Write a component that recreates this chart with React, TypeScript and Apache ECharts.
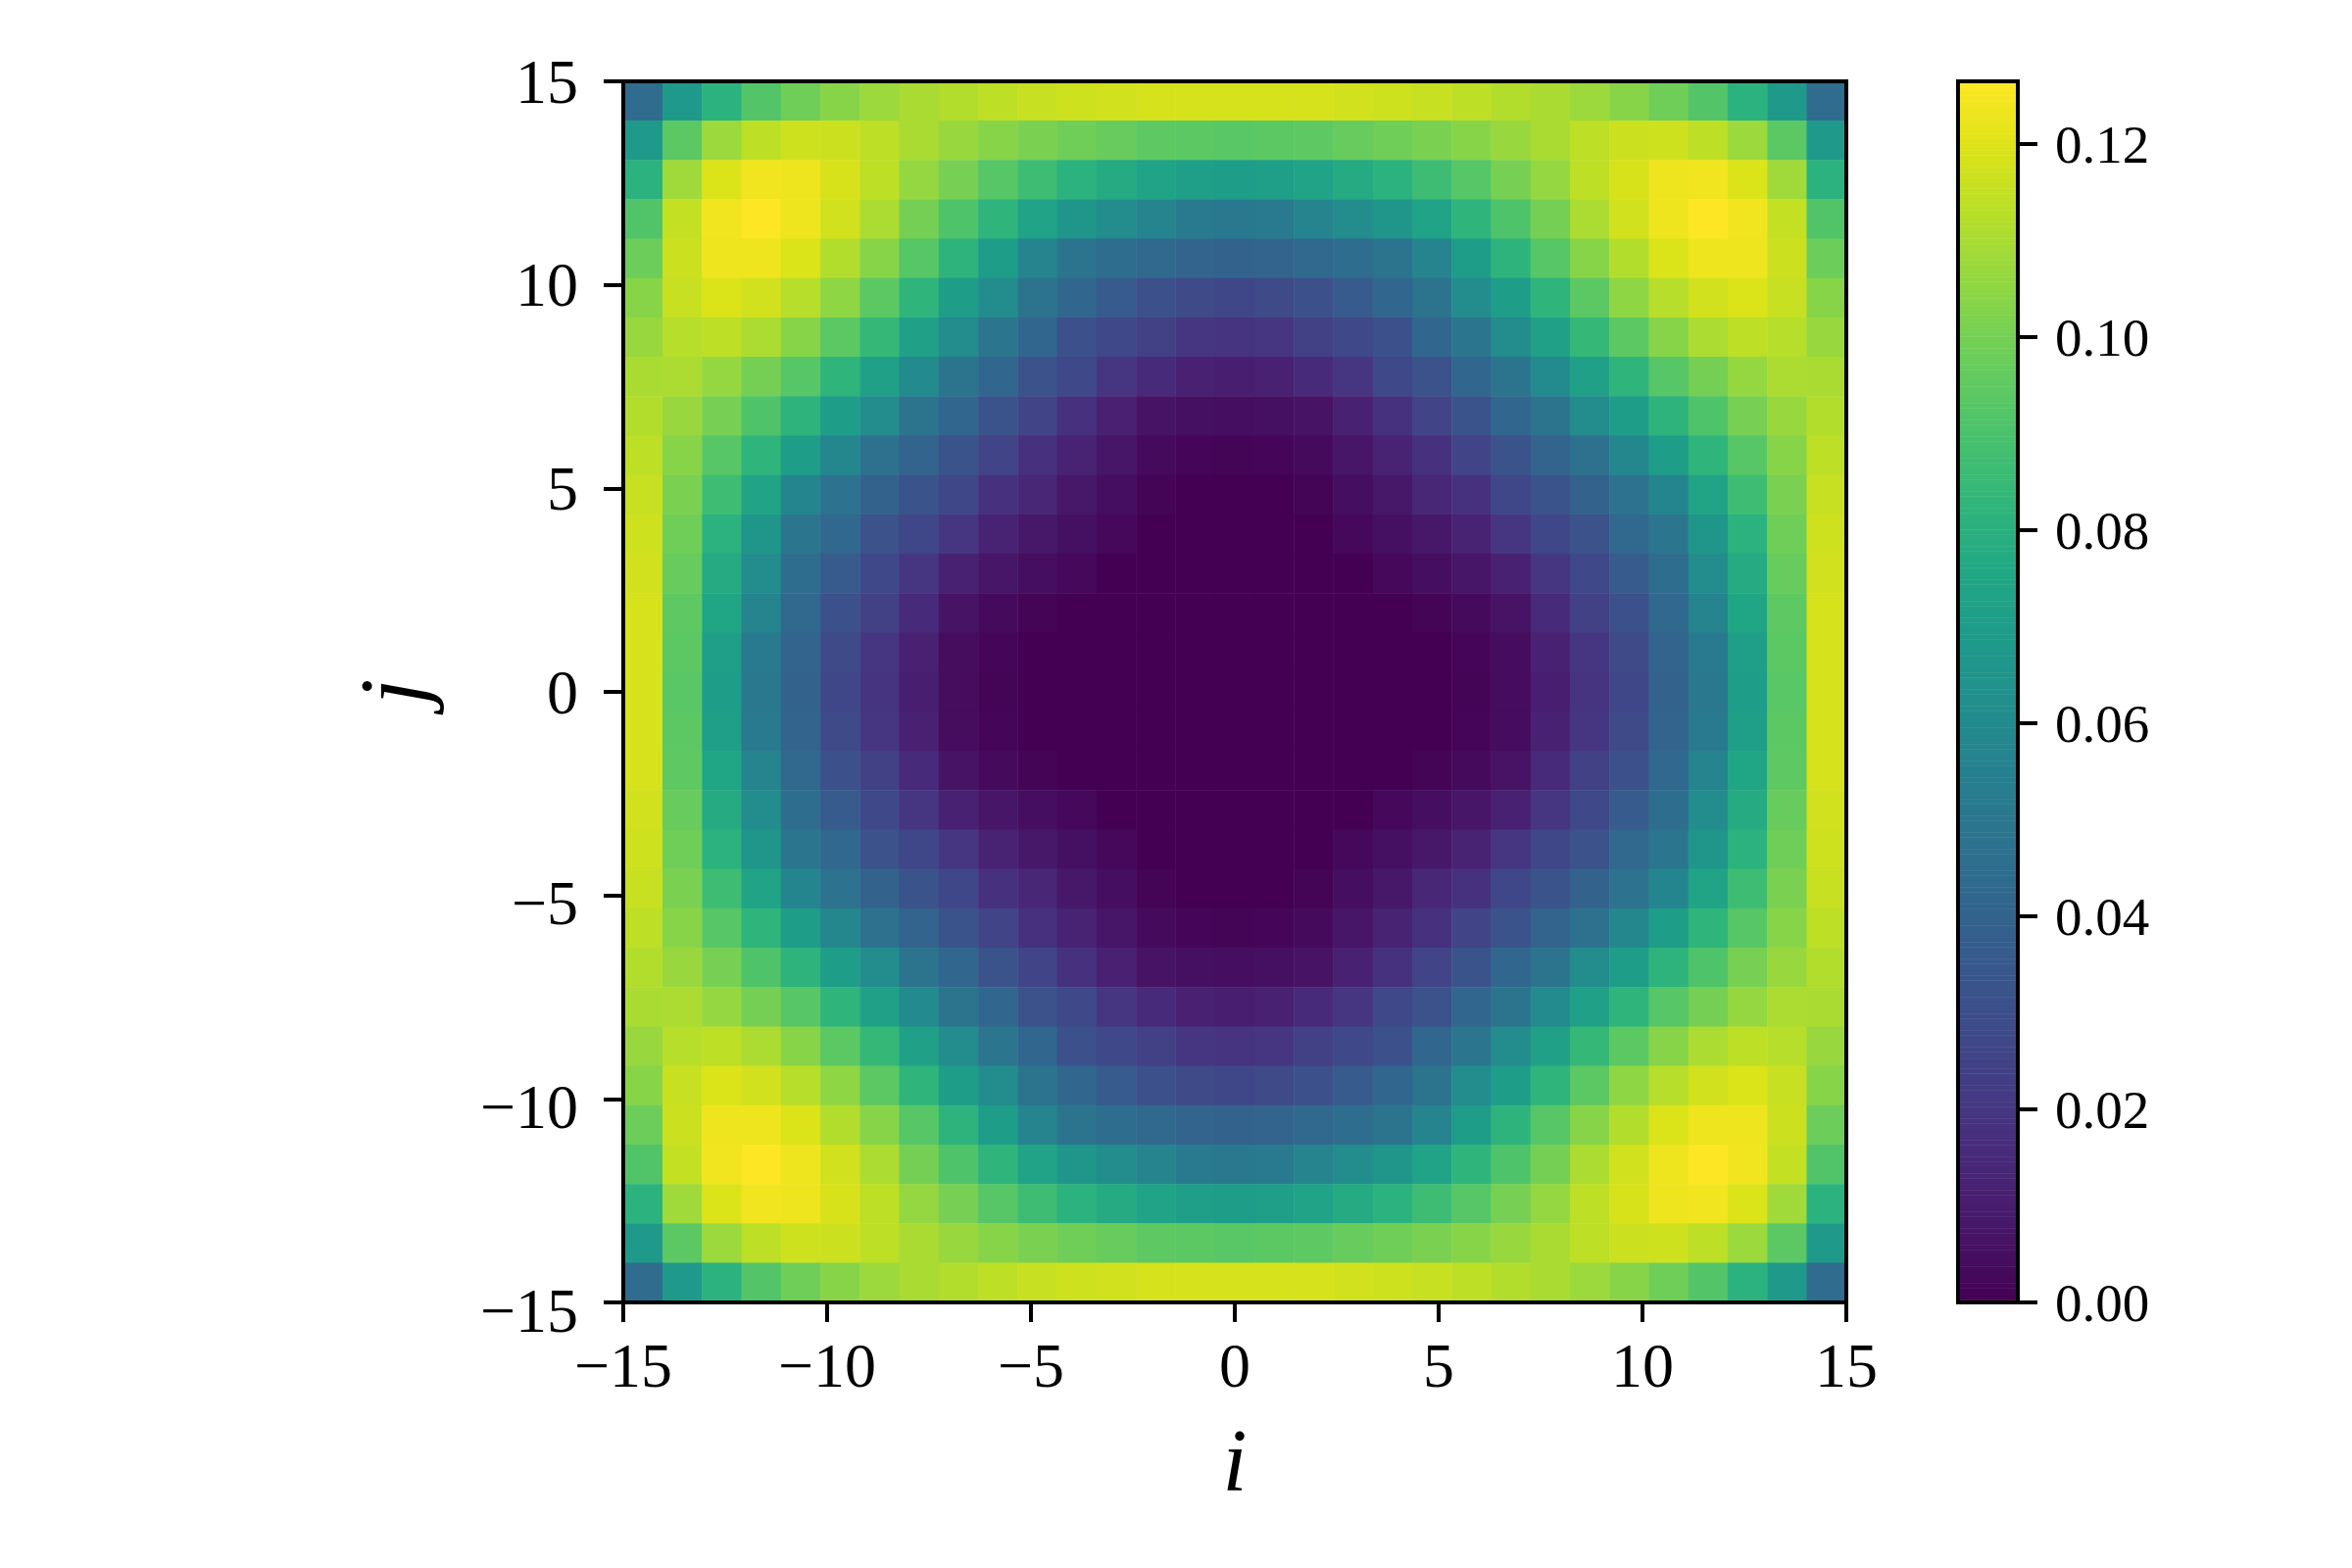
import React, { useEffect, useRef } from "react";
import * as echarts from "echarts";

const FONT = "Liberation Serif";

const cellValues: number[][] = [
[.0443,.0683,.0810,.0923,.0987,.1037,.1075,.1101,.1120,.1139,.1157,.1170,.1176,.1183,.1183,.1183,.1183,.1183,.1176,.1170,.1157,.1139,.1120,.1101,.1075,.1037,.0987,.0923,.0810,.0683,.0443],
[.0683,.0942,.1075,.1139,.1170,.1164,.1139,.1101,.1069,.1037,.1012,.0987,.0968,.0949,.0942,.0936,.0942,.0949,.0968,.0987,.1012,.1037,.1069,.1101,.1139,.1164,.1170,.1139,.1075,.0942,.0683],
[.0810,.1082,.1195,.1240,.1233,.1189,.1139,.1063,.1006,.0930,.0867,.0810,.0772,.0734,.0708,.0702,.0708,.0734,.0772,.0810,.0867,.0930,.1006,.1063,.1139,.1189,.1233,.1240,.1195,.1082,.0810],
[.0917,.1151,.1240,.1265,.1233,.1176,.1107,.0999,.0911,.0822,.0734,.0664,.0607,.0569,.0519,.0506,.0519,.0569,.0607,.0664,.0734,.0822,.0911,.0999,.1107,.1176,.1233,.1265,.1240,.1151,.0917],
[.0980,.1164,.1233,.1233,.1195,.1120,.1037,.0930,.0816,.0702,.0569,.0487,.0449,.0424,.0405,.0398,.0405,.0424,.0449,.0487,.0569,.0702,.0816,.0930,.1037,.1120,.1195,.1233,.1233,.1164,.0980],
[.1037,.1157,.1195,.1176,.1126,.1050,.0942,.0822,.0702,.0607,.0481,.0417,.0361,.0310,.0278,.0266,.0278,.0310,.0361,.0417,.0481,.0607,.0702,.0822,.0942,.1050,.1126,.1176,.1195,.1157,.1037],
[.1069,.1126,.1139,.1107,.1037,.0942,.0841,.0721,.0607,.0493,.0417,.0310,.0272,.0240,.0196,.0190,.0196,.0240,.0272,.0310,.0417,.0493,.0607,.0721,.0841,.0942,.1037,.1107,.1139,.1126,.1069],
[.1101,.1107,.1063,.0999,.0930,.0822,.0721,.0601,.0487,.0417,.0316,.0272,.0196,.0152,.0114,.0108,.0114,.0152,.0196,.0272,.0316,.0417,.0487,.0601,.0721,.0822,.0930,.0999,.1063,.1107,.1101],
[.1120,.1069,.1006,.0911,.0816,.0702,.0607,.0487,.0417,.0323,.0253,.0177,.0114,.0063,.0051,.0044,.0051,.0063,.0114,.0177,.0253,.0323,.0417,.0487,.0607,.0702,.0816,.0911,.1006,.1069,.1120],
[.1139,.1037,.0930,.0822,.0702,.0582,.0468,.0405,.0323,.0253,.0177,.0120,.0076,.0032,.0019,.0013,.0019,.0032,.0076,.0120,.0177,.0253,.0323,.0405,.0468,.0582,.0702,.0822,.0930,.1037,.1139],
[.1157,.1012,.0867,.0740,.0576,.0474,.0398,.0323,.0266,.0177,.0139,.0082,.0044,.0013,0,0,0,.0013,.0044,.0082,.0139,.0177,.0266,.0323,.0398,.0474,.0576,.0740,.0867,.1012,.1157],
[.1170,.0987,.0810,.0664,.0493,.0424,.0316,.0266,.0196,.0120,.0082,.0051,.0025,0,0,0,0,0,.0025,.0051,.0082,.0120,.0196,.0266,.0316,.0424,.0493,.0664,.0810,.0987,.1170],
[.1176,.0968,.0772,.0607,.0449,.0361,.0272,.0196,.0114,.0076,.0044,.0025,0,0,0,0,0,0,0,.0025,.0044,.0076,.0114,.0196,.0272,.0361,.0449,.0607,.0772,.0968,.1176],
[.1183,.0949,.0746,.0569,.0424,.0310,.0240,.0152,.0063,.0032,.0013,0,0,0,0,0,0,0,0,0,.0013,.0032,.0063,.0152,.0240,.0310,.0424,.0569,.0746,.0949,.1183],
[.1183,.0942,.0708,.0519,.0405,.0278,.0196,.0114,.0038,.0019,0,0,0,0,0,0,0,0,0,0,0,.0019,.0038,.0114,.0196,.0278,.0405,.0519,.0708,.0942,.1183],
[.1183,.0936,.0702,.0506,.0398,.0266,.0190,.0108,.0038,.0013,0,0,0,0,0,0,0,0,0,0,0,.0013,.0038,.0108,.0190,.0266,.0398,.0506,.0702,.0936,.1183],
[.1183,.0942,.0708,.0519,.0405,.0278,.0196,.0114,.0038,.0019,0,0,0,0,0,0,0,0,0,0,0,.0019,.0038,.0114,.0196,.0278,.0405,.0519,.0708,.0942,.1183],
[.1183,.0949,.0746,.0569,.0424,.0310,.0240,.0152,.0063,.0032,.0013,0,0,0,0,0,0,0,0,0,.0013,.0032,.0063,.0152,.0240,.0310,.0424,.0569,.0746,.0949,.1183],
[.1176,.0968,.0772,.0607,.0449,.0361,.0272,.0196,.0114,.0076,.0044,.0025,0,0,0,0,0,0,0,.0025,.0044,.0076,.0114,.0196,.0272,.0361,.0449,.0607,.0772,.0968,.1176],
[.1170,.0987,.0810,.0664,.0493,.0424,.0316,.0266,.0196,.0120,.0082,.0051,.0025,0,0,0,0,0,.0025,.0051,.0082,.0120,.0196,.0266,.0316,.0424,.0493,.0664,.0810,.0987,.1170],
[.1157,.1012,.0867,.0740,.0576,.0474,.0398,.0323,.0266,.0177,.0139,.0082,.0044,.0013,0,0,0,.0013,.0044,.0082,.0139,.0177,.0266,.0323,.0398,.0474,.0576,.0740,.0867,.1012,.1157],
[.1139,.1037,.0930,.0822,.0702,.0582,.0468,.0405,.0323,.0253,.0177,.0120,.0076,.0032,.0019,.0013,.0019,.0032,.0076,.0120,.0177,.0253,.0323,.0405,.0468,.0582,.0702,.0822,.0930,.1037,.1139],
[.1120,.1069,.1006,.0911,.0816,.0702,.0607,.0487,.0417,.0323,.0253,.0177,.0114,.0063,.0051,.0044,.0051,.0063,.0114,.0177,.0253,.0323,.0417,.0487,.0607,.0702,.0816,.0911,.1006,.1069,.1120],
[.1101,.1107,.1063,.0999,.0930,.0822,.0721,.0601,.0487,.0417,.0316,.0272,.0196,.0152,.0114,.0108,.0114,.0152,.0196,.0272,.0316,.0417,.0487,.0601,.0721,.0822,.0930,.0999,.1063,.1107,.1101],
[.1069,.1126,.1139,.1107,.1037,.0942,.0841,.0721,.0607,.0493,.0417,.0310,.0272,.0240,.0196,.0190,.0196,.0240,.0272,.0310,.0417,.0493,.0607,.0721,.0841,.0942,.1037,.1107,.1139,.1126,.1069],
[.1037,.1157,.1195,.1176,.1126,.1050,.0942,.0822,.0702,.0607,.0481,.0417,.0361,.0310,.0278,.0266,.0278,.0310,.0361,.0417,.0481,.0607,.0702,.0822,.0942,.1050,.1126,.1176,.1195,.1157,.1037],
[.0980,.1164,.1233,.1233,.1195,.1120,.1037,.0930,.0816,.0702,.0569,.0487,.0449,.0424,.0405,.0398,.0405,.0424,.0449,.0487,.0569,.0702,.0816,.0930,.1037,.1120,.1195,.1233,.1233,.1164,.0980],
[.0917,.1151,.1240,.1265,.1233,.1176,.1107,.0999,.0911,.0822,.0734,.0664,.0607,.0569,.0519,.0506,.0519,.0569,.0607,.0664,.0734,.0822,.0911,.0999,.1107,.1176,.1233,.1265,.1240,.1151,.0917],
[.0810,.1082,.1195,.1240,.1233,.1189,.1139,.1063,.1006,.0930,.0867,.0810,.0772,.0734,.0708,.0702,.0708,.0734,.0772,.0810,.0867,.0930,.1006,.1063,.1139,.1189,.1233,.1240,.1195,.1082,.0810],
[.0683,.0942,.1075,.1139,.1170,.1164,.1139,.1101,.1069,.1037,.1012,.0987,.0968,.0949,.0942,.0936,.0942,.0949,.0968,.0987,.1012,.1037,.1069,.1101,.1139,.1164,.1170,.1139,.1075,.0942,.0683],
[.0443,.0683,.0810,.0923,.0987,.1037,.1075,.1101,.1120,.1139,.1157,.1170,.1176,.1183,.1183,.1183,.1183,.1183,.1176,.1170,.1157,.1139,.1120,.1101,.1075,.1037,.0987,.0923,.0810,.0683,.0443],
];

const axisTicks = [-15, -10, -5, 0, 5, 10, 15];
const colorbarTicks = [0, 0.02, 0.04, 0.06, 0.08, 0.1, 0.12];
const valueMax = 0.1265;
const viridis = [
  "#440154", "#471365", "#482475", "#463480", "#414487", "#3b528b", "#355f8d",
  "#2f6c8e", "#2a788e", "#25848e", "#21918c", "#1e9c89", "#22a884", "#2fb47c",
  "#44bf70", "#5ec962", "#7ad151", "#9bd93c", "#bddf26", "#dfe318", "#fde725",
];

const cellCategories = cellValues.map((_, k) => String(k));
const heatData = cellValues.flatMap((row, r) =>
  row.map((v, c) => [c, cellValues.length - 1 - r, v])
);
const barLevels = Array.from({ length: 512 }, (_, k) => (valueMax * k) / 511);
const barCategories = barLevels.map((_, k) => String(k));
const barData = barLevels.map((v, k) => [0, k, v]);

const spine = { show: true, onZero: false, lineStyle: { color: "#000", width: 4, cap: "square" } };
const tickStyle = { show: true, length: 20, lineStyle: { color: "#000", width: 4 } };
const minus = (v: number) => String(v).replace("-", "\u2212");

function frameAxis(extra: object) {
  return {
    type: "category",
    z: 5,
    silent: true,
    axisLine: spine,
    axisTick: { show: false },
    axisLabel: { show: false },
    splitLine: { show: false },
    ...extra,
  };
}

export default function App() {
  const ref = useRef<HTMLDivElement>(null);
  useEffect(() => {
    const chart = echarts.init(ref.current!, null, { renderer: "svg", width: 2400, height: 1600 });
    chart.setOption({
      animation: false,
      backgroundColor: "#ffffff",
      grid: [
        { left: 636, top: 83, width: 1248, height: 1246 },
        { left: 1998, top: 83, width: 61, height: 1246 },
      ],
      visualMap: {
        show: false,
        min: 0,
        max: valueMax,
        seriesIndex: [0, 1],
        dimension: 2,
        inRange: { color: viridis },
      },
      xAxis: [
        frameAxis({ gridIndex: 0, position: "top", data: cellCategories }),
        {
          type: "value",
          gridIndex: 0,
          position: "bottom",
          z: 5,
          min: -15,
          max: 15,
          interval: 5,
          axisLine: spine,
          axisTick: { ...tickStyle, customValues: axisTicks },
          splitLine: { show: false },
          axisLabel: {
            customValues: axisTicks,
            margin: 32,
            color: "#000",
            fontFamily: FONT,
            fontSize: 64,
            formatter: (v: number) => minus(v),
          },
          name: "i",
          nameLocation: "middle",
          nameGap: 116,
          nameTextStyle: { color: "#000", fontFamily: FONT, fontStyle: "italic", fontSize: 90 },
        },
        frameAxis({ gridIndex: 1, position: "bottom", data: ["bar"] }),
        frameAxis({ gridIndex: 1, position: "top", data: ["bar"] }),
      ],
      yAxis: [
        frameAxis({ gridIndex: 0, position: "right", data: cellCategories }),
        {
          type: "value",
          gridIndex: 0,
          position: "left",
          z: 5,
          min: -15,
          max: 15,
          interval: 5,
          axisLine: spine,
          axisTick: tickStyle,
          splitLine: { show: false },
          axisLabel: {
            margin: 46,
            color: "#000",
            fontFamily: FONT,
            fontSize: 64,
            formatter: (v: number) => (v < 0 ? `{neg|${minus(v)}}` : minus(v)),
            rich: { neg: { fontFamily: FONT, fontSize: 64, color: "#000", padding: [16, 0, 0, 0] } },
          },
          name: "j",
          nameLocation: "middle",
          nameGap: 188,
          nameTextStyle: { color: "#000", fontFamily: FONT, fontStyle: "italic", fontSize: 96 },
        },
        frameAxis({ gridIndex: 1, position: "left", data: barCategories }),
        {
          type: "value",
          gridIndex: 1,
          position: "right",
          z: 5,
          min: 0,
          max: valueMax,
          axisLine: spine,
          axisTick: { ...tickStyle, customValues: colorbarTicks },
          splitLine: { show: false },
          axisLabel: {
            customValues: colorbarTicks,
            margin: 38,
            color: "#000",
            fontFamily: FONT,
            fontSize: 55,
            formatter: (v: number) => v.toFixed(2),
          },
        },
      ],
      series: [
        { type: "heatmap", xAxisIndex: 0, yAxisIndex: 0, data: heatData, silent: true },
        { type: "heatmap", xAxisIndex: 2, yAxisIndex: 2, data: barData, silent: true },
      ],
    });
    return () => chart.dispose();
  }, []);
  return <div ref={ref} style={{ position: "absolute", left: 0, top: 0, width: 2400, height: 1600 }} />;
}
